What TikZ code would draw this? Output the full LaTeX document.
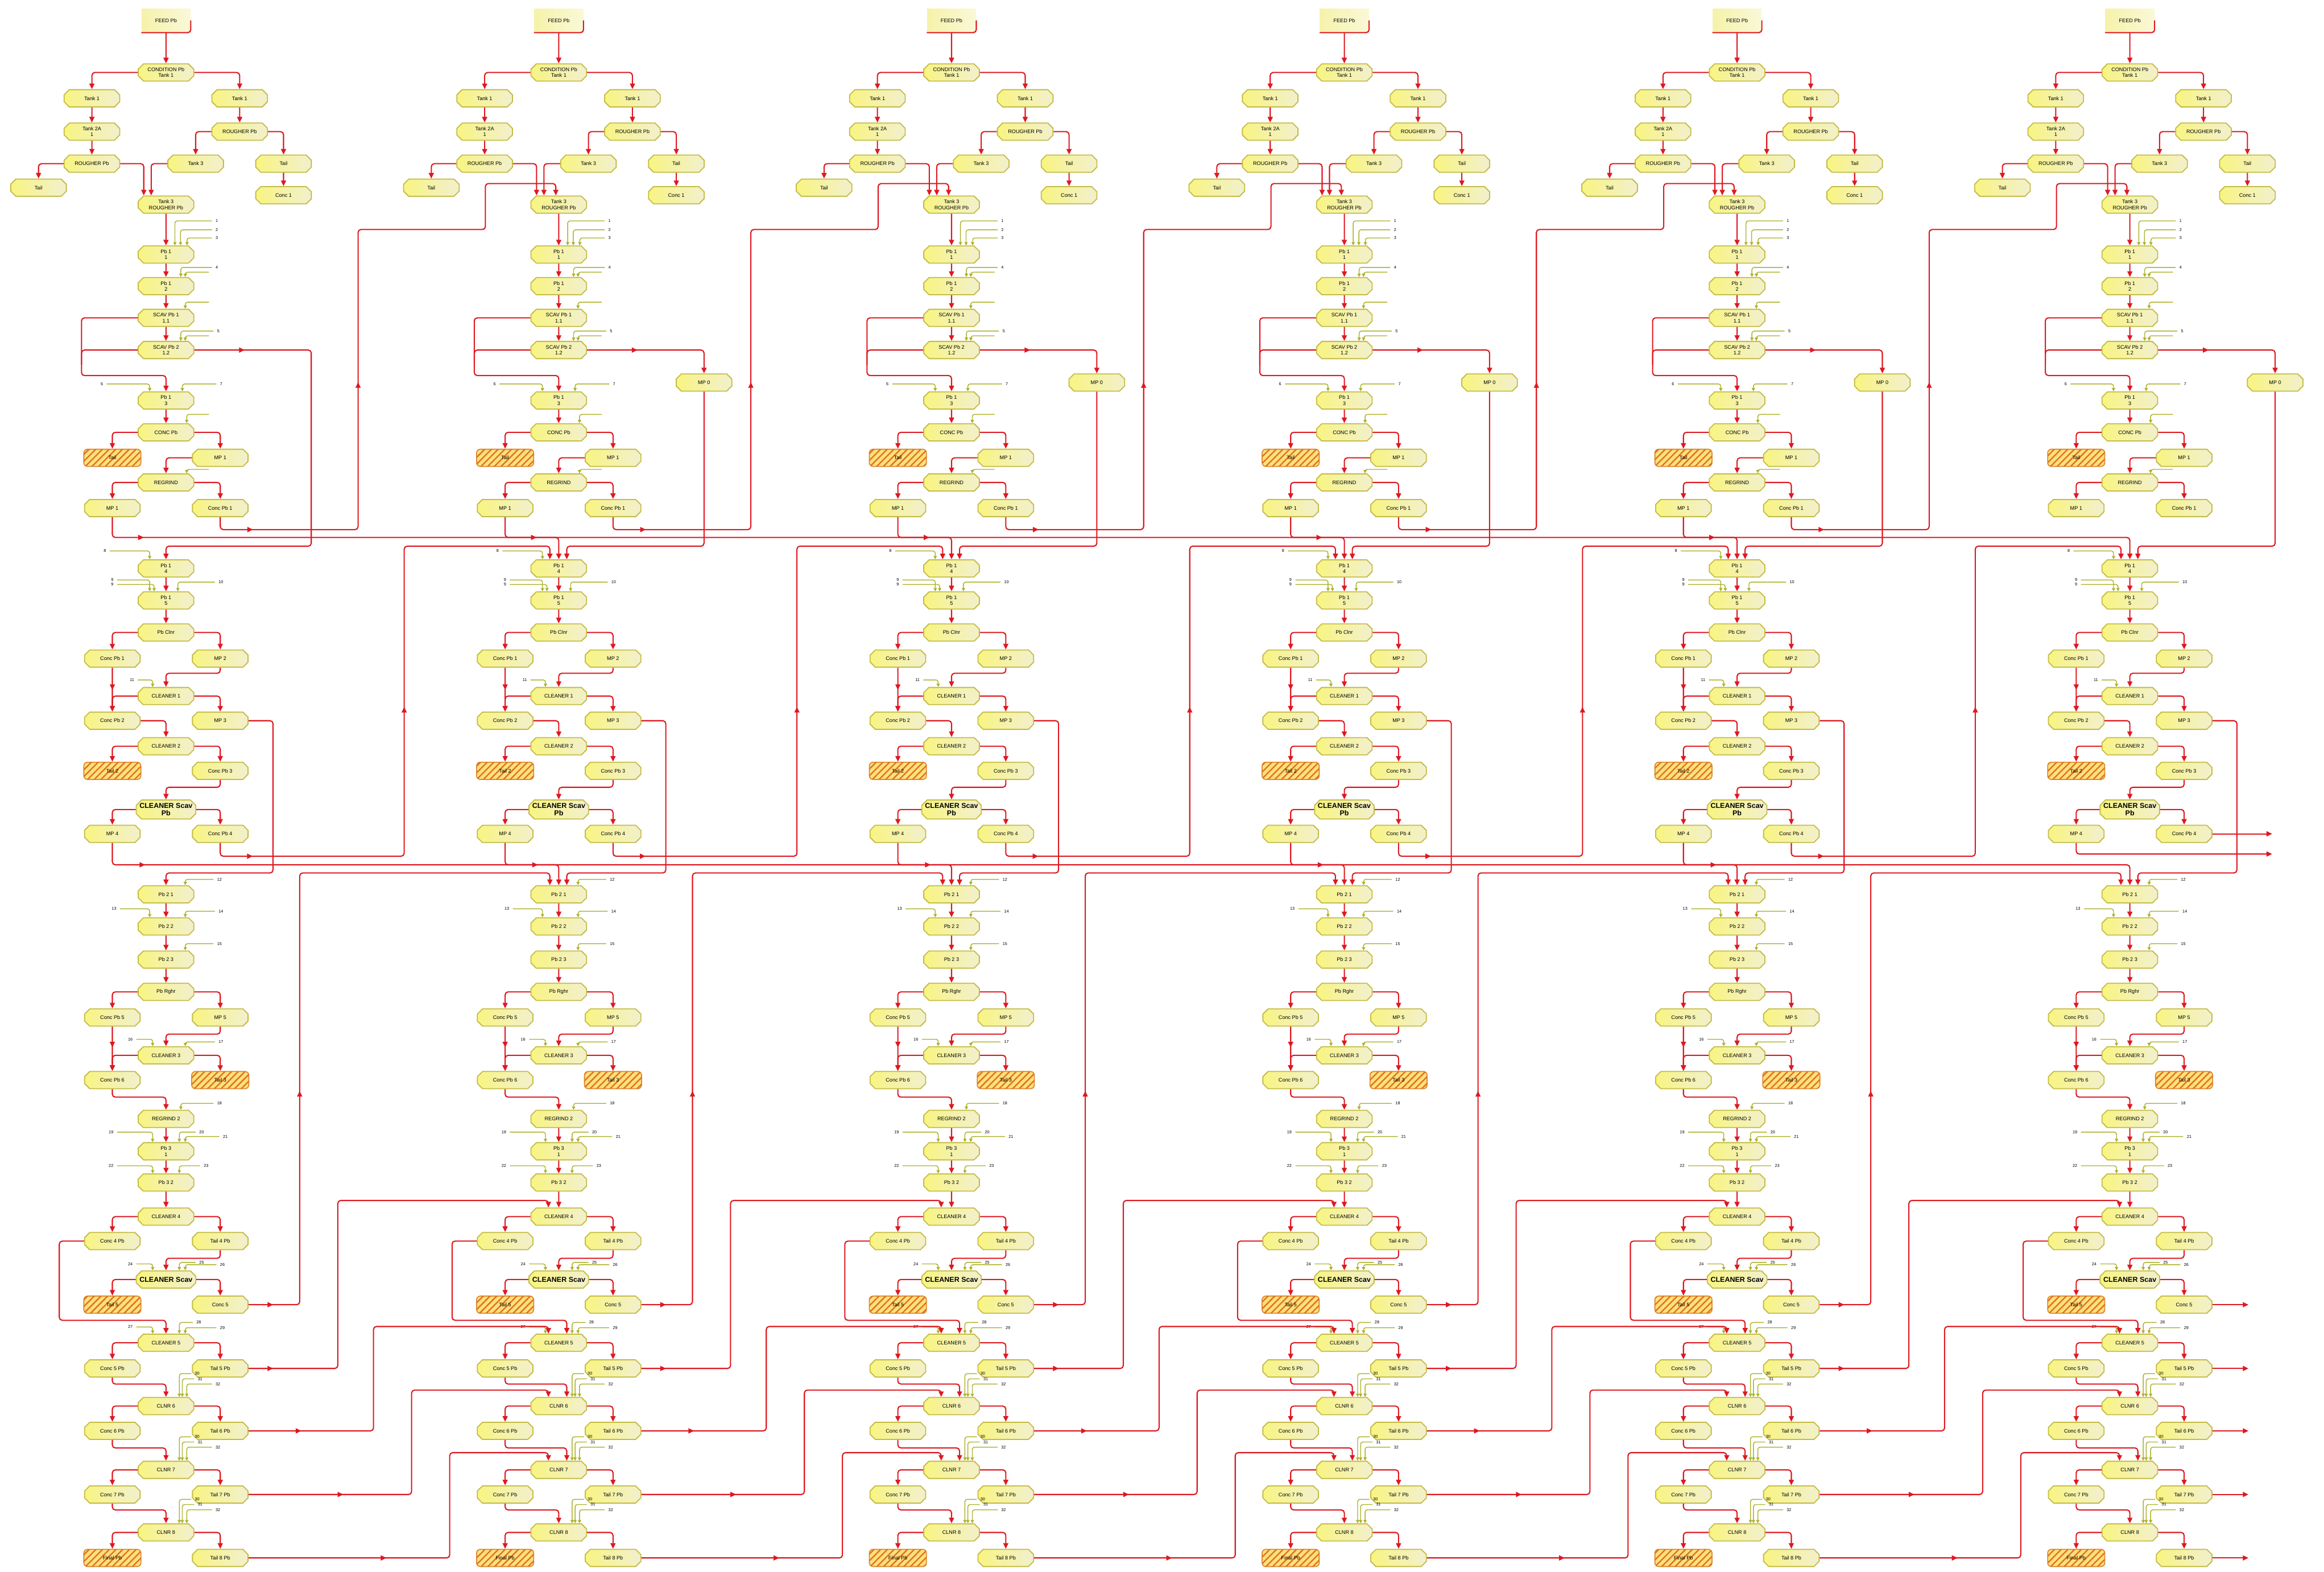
\documentclass[tikz,border=0pt]{standalone}
\usepackage{fontspec}
\setmainfont{Liberation Sans}
\usetikzlibrary{shapes.misc,arrows.meta,patterns.meta,decorations.markings,calc}
\definecolor{wirec}{RGB}{222,24,32}
\definecolor{nodeline}{RGB}{196,188,70}
\definecolor{fillL}{RGB}{248,244,130}
\definecolor{fillR}{RGB}{242,240,205}
\definecolor{stubc}{RGB}{172,178,40}
\definecolor{hatchfill}{RGB}{252,226,120}
\definecolor{hatchline}{RGB}{226,110,40}
\definecolor{hatchdraw}{RGB}{222,140,50}
\definecolor{startL}{RGB}{246,242,170}
\definecolor{startR}{RGB}{250,248,215}
\tikzset{
  blk/.style={chamfered rectangle, chamfered rectangle xsep=1.8pt, chamfered rectangle ysep=1.8pt,
    draw=nodeline, line width=0.7pt, left color=fillL, right color=fillR,
    minimum width=37.5pt, minimum height=11.6pt, inner sep=0.4pt,
    font=\fontsize{3.5}{4}\selectfont, align=center, text=black},
  bblk/.style={blk, font=\fontsize{4.8}{5}\selectfont\bfseries},
  hatch/.style={rectangle, rounded corners=2.5pt, draw=hatchdraw, line width=0.7pt, fill=hatchfill,
    postaction={pattern={Lines[angle=45,distance=3.2pt,line width=0.9pt]}, pattern color=hatchline},
    minimum width=38.5pt, minimum height=11.6pt, inner sep=0.4pt,
    font=\fontsize{3.5}{4}\selectfont, align=center, text=black},
  startbox/.style={rectangle, left color=startL, right color=startR, minimum width=33pt,
    minimum height=16pt, inner sep=0.4pt, font=\fontsize{3.5}{4}\selectfont, text=black},
  wire/.style={color=wirec, line width=0.8pt, rounded corners=2pt},
  arr/.style={wire, -{Triangle[length=3.8pt,width=3.4pt]}},
  midarr/.style={postaction={decorate, decoration={markings,
    mark=at position #1 with {\arrow{Triangle[length=3.8pt,width=3.4pt]}}}}},
  stub/.style={draw=stubc, line width=0.55pt, rounded corners=1.5pt, -{Triangle[length=2.2pt,width=2.2pt]}},
  lbl/.style={font=\fontsize{2.8}{3}\selectfont, inner sep=0.3pt, text=black},
}
\newcommand{\stubR}[5]{\node[lbl,anchor=west] (#1) at (#2,#3) {#4}; \draw[stub] ([xshift=-2pt]#1.west) -| #5;}
\newcommand{\stubL}[5]{\node[lbl,anchor=east] (#1) at (#2,#3) {#4}; \draw[stub] ([xshift=2pt]#1.east) -| #5;}
\begin{document}
\begin{tikzpicture}[x=1pt,y=-1pt]
\useasboundingbox (0,0) rectangle (1568,1060);
\fill[white] (0,0) rectangle (1568,1060);

\foreach \c/\X in {1/112,2/377,3/642,4/907,5/1172,6/1437}{
  \pgfmathsetmacro{\own}{\c>1 ? 5.4 : 0}
  % ---------- nodes, top section
  \node[startbox] (c\c-S) at (\X,13.8) {FEED Pb};
  \node[blk] (c\c-A) at (\X,48.9) {CONDITION Pb\\Tank 1};
  \node[blk] (c\c-B1) at (\X-50,66.3) {Tank 1};
  \node[blk] (c\c-B2) at (\X+49.7,66.3) {Tank 1};
  \node[blk] (c\c-C1) at (\X-50,88.8) {Tank 2A\\1};
  \node[blk] (c\c-C2) at (\X+49.7,88.8) {ROUGHER Pb};
  \node[blk] (c\c-D1) at (\X-50,110.4) {ROUGHER Pb};
  \node[blk] (c\c-D2) at (\X+20,110.4) {Tank 3};
  \node[blk] (c\c-D3) at (\X+79.3,110.4) {Tail};
  \node[blk] (c\c-E0) at (\X-86,126.6) {Tail};
  \node[blk] (c\c-E3) at (\X+79.3,131.7) {Conc 1};
  \node[blk] (c\c-F) at (\X,138) {Tank 3\\ROUGHER Pb};
  \node[blk] (c\c-G) at (\X,171.7) {Pb 1\\1};
  \node[blk] (c\c-H) at (\X,193) {Pb 1\\2};
  \node[blk] (c\c-I) at (\X,214.4) {SCAV Pb 1\\1.1};
  \node[blk] (c\c-J) at (\X,236.1) {SCAV Pb 2\\1.2};
  \node[blk] (c\c-K) at (\X,270.1) {Pb 1\\3};
  \node[blk] (c\c-L) at (\X,291.6) {CONC Pb};
  \node[hatch] (c\c-M1) at (\X-36.2,308.8) {Tail};
  \node[blk] (c\c-M2) at (\X+36.6,308.8) {MP 1};
  \node[blk] (c\c-N) at (\X,325.4) {REGRIND};
  \node[blk] (c\c-O1) at (\X-36.2,342.7) {MP 1};
  \node[blk] (c\c-O2) at (\X+36.6,342.7) {Conc Pb 1};
  % ---------- second section
  \node[blk] (c\c-P) at (\X,383.4) {Pb 1\\4};
  \node[blk] (c\c-Q) at (\X,405) {Pb 1\\5};
  \node[blk] (c\c-R) at (\X,426.6) {Pb Clnr};
  \node[blk] (c\c-S1) at (\X-36.2,444.2) {Conc Pb 1};
  \node[blk] (c\c-S2) at (\X+36.6,444.2) {MP 2};
  \node[blk] (c\c-T) at (\X,469.5) {CLEANER 1};
  \node[blk] (c\c-U1) at (\X-36.2,486.1) {Conc Pb 2};
  \node[blk] (c\c-U2) at (\X+36.6,486.1) {MP 3};
  \node[blk] (c\c-V) at (\X,503.3) {CLEANER 2};
  \node[hatch] (c\c-W1) at (\X-36.2,519.9) {Tail 2};
  \node[blk] (c\c-W2) at (\X+36.6,519.9) {Conc Pb 3};
  \node[bblk] (c\c-X) at (\X,546) {CLEANER Scav\\Pb};
  \node[blk] (c\c-Y1) at (\X-36.2,562.4) {MP 4};
  \node[blk] (c\c-Y2) at (\X+36.6,562.4) {Conc Pb 4};
  % ---------- third section
  \node[blk] (c\c-Z1) at (\X,603.2) {Pb 2 1};
  \node[blk] (c\c-Z2) at (\X,624.9) {Pb 2 2};
  \node[blk] (c\c-Z3) at (\X,647.2) {Pb 2 3};
  \node[blk] (c\c-AA) at (\X,669) {Pb Rghr};
  \node[blk] (c\c-AB1) at (\X-36.2,686.3) {Conc Pb 5};
  \node[blk] (c\c-AB2) at (\X+36.6,686.3) {MP 5};
  \node[blk] (c\c-AC) at (\X,711.8) {CLEANER 3};
  \node[blk] (c\c-AD1) at (\X-36.2,728.5) {Conc Pb 6};
  \node[hatch] (c\c-AD2) at (\X+36.6,728.5) {Tail 3};
  \node[blk] (c\c-AE) at (\X,754.7) {REGRIND 2};
  \node[blk] (c\c-AF) at (\X,776.5) {Pb 3\\1};
  \node[blk] (c\c-AG) at (\X,797.6) {Pb 3 2};
  \node[blk] (c\c-AH) at (\X,820.6) {CLEANER 4};
  \node[blk] (c\c-AI1) at (\X-36.2,837.1) {Conc 4 Pb};
  \node[blk] (c\c-AI2) at (\X+36.6,837.1) {Tail 4 Pb};
  \node[bblk] (c\c-AJ) at (\X,863) {CLEANER Scav};
  \node[hatch] (c\c-AK1) at (\X-36.2,880) {Tail 5};
  \node[blk] (c\c-AK2) at (\X+36.6,880) {Conc 5};
  \node[blk] (c\c-AL) at (\X,905.7) {CLEANER 5};
  \node[blk] (c\c-AM1) at (\X-36.2,923) {Conc 5 Pb};
  \node[blk] (c\c-AM2) at (\X+36.6,923) {Tail 5 Pb};
  \node[blk] (c\c-AN) at (\X,948.4) {CLNR 6};
  \node[blk] (c\c-AO1) at (\X-36.2,965.1) {Conc 6 Pb};
  \node[blk] (c\c-AO2) at (\X+36.6,965.1) {Tail 6 Pb};
  \node[blk] (c\c-AP) at (\X,991.4) {CLNR 7};
  \node[blk] (c\c-AQ1) at (\X-36.2,1008) {Conc 7 Pb};
  \node[blk] (c\c-AQ2) at (\X+36.6,1008) {Tail 7 Pb};
  \node[blk] (c\c-AR) at (\X,1033.6) {CLNR 8};
  \node[hatch] (c\c-AS1) at (\X-36.2,1050.8) {Final Pb};
  \node[blk] (c\c-AS2) at (\X+36.6,1050.8) {Tail 8 Pb};
  % ---------- connectors, top
  \draw[wire] (c\c-S.east) -- (c\c-S.south east) -- (c\c-S.south west);
  \draw[arr] (c\c-S) -- (c\c-A);
  \draw[arr] (c\c-A.west) -| (c\c-B1.north);
  \draw[arr] (c\c-A.east) -| (c\c-B2.north);
  \draw[arr] (c\c-B1) -- (c\c-C1);
  \draw[arr] (c\c-C1) -- (c\c-D1);
  \draw[arr] (c\c-B2) -- (c\c-C2);
  \draw[arr] (c\c-C2.west) -| (c\c-D2.north);
  \draw[arr] (c\c-C2.east) -| (c\c-D3.north);
  \draw[arr] (c\c-D1.west) -| (c\c-E0.north);
  \draw[arr] (c\c-D3) -- (c\c-E3);
  \draw[arr] (c\c-D1.east) -| ([xshift=-15pt]c\c-F.north);
  \draw[arr] (c\c-D2.west) -| ([xshift=-10pt]c\c-F.north);
  \draw[arr] (c\c-F) -- (c\c-G);
  \draw[arr] (c\c-G) -- (c\c-H);
  \draw[arr] (c\c-H) -- (c\c-I);
  \draw[arr] (c\c-I) -- (c\c-J);
  \draw[arr] (c\c-I.west) -| (\X-57,253.3) -| (c\c-K.north);
  \draw[wire] (c\c-J.west) -| (\X-57,246);
  \draw[arr] (c\c-K) -- (c\c-L);
  \draw[arr] (c\c-L.west) -| (c\c-M1.north);
  \draw[arr] (c\c-L.east) -| (c\c-M2.north);
  \draw[arr] (c\c-M2.west) -| (c\c-N.north);
  \draw[arr] (c\c-N.west) -| (c\c-O1.north);
  \draw[arr] (c\c-N.east) -| (c\c-O2.north);
  \ifnum\c=1
    \draw[arr,midarr=34pt] (c\c-J.east) -| (\X+98,368.4) -| (c\c-P.north);
  \else
    \node[blk] (c\c-MX) at (\X+98,258) {MP 0};
    \draw[arr,midarr=34pt] (c\c-J.east) -| (c\c-MX.north);
    \draw[arr] (c\c-MX.south) |- (\X+\own,368.4) -- ([xshift=\own pt]c\c-P.north);
  \fi
  % ---------- connectors, second section
  \draw[arr] (c\c-P) -- (c\c-Q);
  \draw[arr] (c\c-Q) -- (c\c-R);
  \draw[arr] (c\c-R.west) -| (c\c-S1.north);
  \draw[arr] (c\c-R.east) -| (c\c-S2.north);
  \draw[arr,midarr=15pt] (c\c-S1) -- (c\c-U1);
  \draw[arr] (c\c-T.west) -| (c\c-U1.north);
  \draw[arr] (c\c-S2.south) |- (\X,454.1) -- (c\c-T.north);
  \draw[arr] (c\c-T.east) -| (c\c-U2.north);
  \draw[arr] (c\c-U1.east) -| (c\c-V.north);
  \draw[arr] (c\c-V.west) -| (c\c-W1.north);
  \draw[arr] (c\c-V.east) -| (c\c-W2.north);
  \draw[arr] (c\c-W2.south) |- (\X,531) -- (c\c-X.north);
  \draw[arr] (c\c-X.west) -| (c\c-Y1.north);
  \draw[arr] (c\c-X.east) -| (c\c-Y2.north);
  \draw[arr] (c\c-U2.east) -| (\X+72.2,588.8) -| ([xshift=\own pt]c\c-Z1.north);
  % ---------- connectors, third section
  \draw[arr] (c\c-Z1) -- (c\c-Z2);
  \draw[arr] (c\c-Z2) -- (c\c-Z3);
  \draw[arr] (c\c-Z3) -- (c\c-AA);
  \draw[arr] (c\c-AA.west) -| (c\c-AB1.north);
  \draw[arr] (c\c-AA.east) -| (c\c-AB2.north);
  \draw[arr,midarr=14pt] (c\c-AB1) -- (c\c-AD1);
  \draw[arr] (c\c-AC.west) -| (c\c-AD1.north);
  \draw[arr] (c\c-AB2.south) |- (\X,697.5) -- (c\c-AC.north);
  \draw[arr] (c\c-AC.east) -| (c\c-AD2.north);
  \draw[arr] (c\c-AD1.south) |- (\X,740) -- (c\c-AE.north);
  \draw[arr] (c\c-AE) -- (c\c-AF);
  \draw[arr] (c\c-AF) -- (c\c-AG);
  \draw[arr] (c\c-AG) -- (c\c-AH);
  \draw[arr] (c\c-AH.west) -| (c\c-AI1.north);
  \draw[arr] (c\c-AH.east) -| (c\c-AI2.north);
  \draw[arr] (c\c-AI2.south) |- (\X,848.7) -- (c\c-AJ.north);
  \draw[arr] (c\c-AJ.west) -| (c\c-AK1.north);
  \draw[arr] (c\c-AJ.east) -| (c\c-AK2.north);
  \draw[arr] (c\c-AI1.west) -| (\X-72,890.5) -| ([xshift=\own pt]c\c-AL.north);
  \draw[arr] (c\c-AL.west) -| (c\c-AM1.north);
  \draw[arr] (c\c-AL.east) -| (c\c-AM2.north);
  \draw[arr] (c\c-AM1.south) |- (\X+\own,933.5) -- ([xshift=\own pt]c\c-AN.north);
  \draw[arr] (c\c-AN.west) -| (c\c-AO1.north);
  \draw[arr] (c\c-AN.east) -| (c\c-AO2.north);
  \draw[arr] (c\c-AO1.south) |- (\X+\own,976.6) -- ([xshift=\own pt]c\c-AP.north);
  \draw[arr] (c\c-AP.west) -| (c\c-AQ1.north);
  \draw[arr] (c\c-AP.east) -| (c\c-AQ2.north);
  \draw[arr] (c\c-AQ1.south) |- (\X,1018.4) -- (c\c-AR.north);
  \draw[arr] (c\c-AR.west) -| (c\c-AS1.north);
  \draw[arr] (c\c-AR.east) -| (c\c-AS2.north);
  % ---------- olive input stubs
  \stubR{c\c-Gs1}{\X+33}{149}{1}{([xshift=6pt]c\c-G.north)}
  \stubR{c\c-Gs2}{\X+33}{155}{2}{([xshift=9.8pt]c\c-G.north)}
  \stubR{c\c-Gs3}{\X+33}{160.5}{3}{([xshift=14.2pt]c\c-G.north)}
  \stubR{c\c-Hs1}{\X+33}{180.4}{4}{([xshift=10pt]c\c-H.north)}
  \stubR{c\c-Hs2}{\X+31}{183.6}{}{([xshift=13pt]c\c-H.north)}
  \stubR{c\c-Is1}{\X+31}{203.8}{}{([xshift=13pt]c\c-I.north)}
  \stubR{c\c-Js1}{\X+34}{223.3}{5}{([xshift=10pt]c\c-J.north)}
  \stubR{c\c-Js2}{\X+31}{226.5}{}{([xshift=13pt]c\c-J.north)}
  \stubL{c\c-Ks1}{\X-42}{259}{6}{([xshift=-11pt]c\c-K.north)}
  \stubR{c\c-Ks2}{\X+36}{259}{7}{([xshift=11pt]c\c-K.north)}
  \stubR{c\c-Ls1}{\X+31}{279.5}{}{([xshift=14pt]c\c-L.north)}
  \stubR{c\c-Ns1}{\X+31}{316.6}{}{([xshift=14pt]c\c-N.north)}
  \stubL{c\c-Ps1}{\X-40}{371.6}{8}{([xshift=-11pt]c\c-P.north)}
  \stubL{c\c-Qs1}{\X-35}{391.2}{9}{([xshift=-11pt]c\c-Q.north)}
  \stubL{c\c-Qs2}{\X-35}{394.2}{9}{([xshift=-8pt]c\c-Q.north)}
  \stubR{c\c-Qs3}{\X+35}{392.6}{10}{([xshift=8pt]c\c-Q.north)}
  \stubL{c\c-Ts1}{\X-21}{458.6}{11}{([xshift=-9pt]c\c-T.north)}
  \stubR{c\c-Z1s1}{\X+34}{593.1}{12}{([xshift=13pt]c\c-Z1.north)}
  \stubL{c\c-Z2s1}{\X-33}{613}{13}{([xshift=-11pt]c\c-Z2.north)}
  \stubR{c\c-Z2s2}{\X+35}{614.6}{14}{([xshift=13pt]c\c-Z2.north)}
  \stubR{c\c-Z3s1}{\X+34}{636.5}{15}{([xshift=13pt]c\c-Z3.north)}
  \stubL{c\c-ACs1}{\X-22}{701}{16}{([xshift=-9pt]c\c-AC.north)}
  \stubR{c\c-ACs2}{\X+35}{702.8}{17}{([xshift=13pt]c\c-AC.north)}
  \stubR{c\c-AEs1}{\X+34}{744.2}{18}{([xshift=10pt]c\c-AE.north)}
  \stubL{c\c-AFs1}{\X-35}{763.6}{19}{([xshift=-9pt]c\c-AF.north)}
  \stubR{c\c-AFs2}{\X+22}{763.6}{20}{([xshift=9pt]c\c-AF.north)}
  \stubR{c\c-AFs3}{\X+38}{766.6}{21}{([xshift=13pt]c\c-AF.north)}
  \stubL{c\c-AGs1}{\X-35}{786.3}{22}{([xshift=-9pt]c\c-AG.north)}
  \stubR{c\c-AGs2}{\X+25}{786.3}{23}{([xshift=9pt]c\c-AG.north)}
  \stubL{c\c-AJs1}{\X-22}{852.5}{24}{([xshift=-9pt]c\c-AJ.north)}
  \stubR{c\c-AJs2}{\X+22}{851.5}{25}{([xshift=9pt]c\c-AJ.north)}
  \stubR{c\c-AJs3}{\X+36}{853}{26}{([xshift=13pt]c\c-AJ.north)}
  \stubL{c\c-ALs1}{\X-22}{895}{27}{([xshift=-9pt]c\c-AL.north)}
  \stubR{c\c-ALs2}{\X+20}{892}{28}{([xshift=9pt]c\c-AL.north)}
  \stubR{c\c-ALs3}{\X+36}{895.5}{29}{([xshift=13pt]c\c-AL.north)}
  \stubR{c\c-ANs1}{\X+19}{926.5}{30}{([xshift=9pt]c\c-AN.north)}
  \stubR{c\c-ANs2}{\X+21}{930}{31}{([xshift=11pt]c\c-AN.north)}
  \stubR{c\c-ANs3}{\X+33}{933.5}{32}{([xshift=14pt]c\c-AN.north)}
  \stubR{c\c-APs1}{\X+19}{969.1}{30}{([xshift=9pt]c\c-AP.north)}
  \stubR{c\c-APs2}{\X+21}{972.6}{31}{([xshift=11pt]c\c-AP.north)}
  \stubR{c\c-APs3}{\X+33}{976.1}{32}{([xshift=14pt]c\c-AP.north)}
  \stubR{c\c-ARs1}{\X+19}{1011.3}{30}{([xshift=9pt]c\c-AR.north)}
  \stubR{c\c-ARs2}{\X+21}{1014.8}{31}{([xshift=11pt]c\c-AR.north)}
  \stubR{c\c-ARs3}{\X+33}{1018.3}{32}{([xshift=14pt]c\c-AR.north)}
}

% ---------- connectors from one column to the next
\foreach \p/\c/\X in {1/2/377,2/3/642,3/4/907,4/5/1172,5/6/1437}{
  \draw[arr,midarr=29.6pt,midarr=199pt] (c\p-O2.south) |- (\X-135.4,357.2) |- (\X-49.5,154.8)
     -- (\X-49.5,123.8) -| ([xshift=-2pt]c\c-F.north);
  \draw[arr,midarr=34pt] (c\p-O1.south) |- (\X,362.5) -- (c\c-P.north);
  \draw[arr,midarr=30pt,midarr=232pt] (c\p-Y2.south) |- (\X-104.3,577.5) |- (\X-6,368.4)
     -- ([xshift=-6pt]c\c-P.north);
  \draw[arr,midarr=36pt] (c\p-Y1.south) |- (\X,583.3) -- (c\c-Z1.north);
  \draw[arr,midarr=16.6pt,midarr=177.8pt] (c\p-AK2.east) -| (\X-174.8,588.8) -| ([xshift=-6pt]c\c-Z1.north);
  \draw[arr,midarr=16.6pt] (c\p-AM2.east) -| (\X-149.1,809.7) -| ([xshift=-7pt]c\c-AH.north);
  \draw[arr,midarr=35.6pt] (c\p-AO2.east) -| (\X-125,894.7) -| ([xshift=-7pt]c\c-AL.north);
  \draw[arr,midarr=63.9pt] (c\p-AQ2.east) -| (\X-99.3,937.6) -| ([xshift=-7pt]c\c-AN.north);
  \draw[arr,midarr=93pt] (c\p-AS2.east) -| (\X-73.6,979.8) -| ([xshift=-7pt]c\c-AP.north);
}

% ---------- outputs of the last column
\coordinate (outY2) at (1533,562.4);
\coordinate (outY1) at (1533,576);
\coordinate (outAK) at (1517,880);
\coordinate (outAM) at (1517,923);
\coordinate (outAO) at (1517,965.1);
\coordinate (outAQ) at (1517,1008);
\coordinate (outAS) at (1517,1050.8);
\draw[arr] (c6-Y2.east) -- (outY2);
\draw[arr] (c6-Y1.south) |- (outY1);
\draw[arr] (c6-AK2.east) -- (outAK);
\draw[arr] (c6-AM2.east) -- (outAM);
\draw[arr] (c6-AO2.east) -- (outAO);
\draw[arr] (c6-AQ2.east) -- (outAQ);
\draw[arr] (c6-AS2.east) -- (outAS);
\end{tikzpicture}
\end{document}
